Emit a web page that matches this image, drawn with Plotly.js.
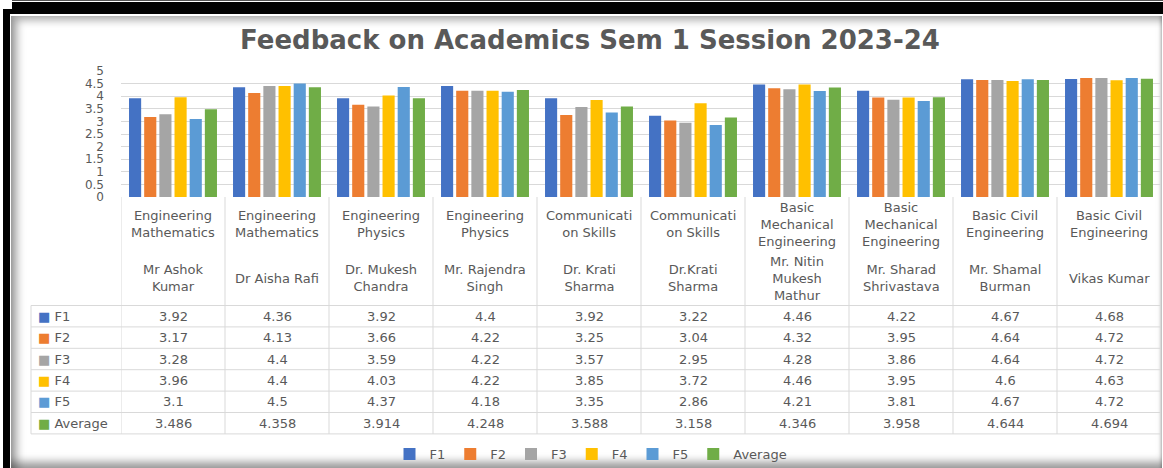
<!DOCTYPE html>
<html><head><meta charset="utf-8">
<script src="https://cdn.plot.ly/plotly-3.0.1.min.js"></script>
<style>
html,body{margin:0;padding:0;width:1163px;height:468px;overflow:hidden;background:#fff;}
.f{position:absolute;}
#f1{left:12px;top:0;right:0;height:9px;background:linear-gradient(#555 0 1px,#fff 1px 2px,#000 2px);}
#f2{left:3px;top:9px;right:0;bottom:0;background:#000;}
#f3{left:10px;top:14px;right:0;bottom:0;background:#fff;}
#f4{left:11px;top:16px;right:1px;bottom:0;background:#fff;
 box-shadow: inset 9px 7px 9px -3px rgba(0,0,0,0.35), inset 0 -9px 8px -3px rgba(0,0,0,0.4), inset -3px 0 3px -2px rgba(0,0,0,0.25);}
#chart{position:absolute;left:0;top:0;width:1163px;height:468px;}
</style></head><body>
<div class="f" id="f1"></div><div class="f" id="f2"></div><div class="f" id="f3"></div><div class="f" id="f4"></div>
<div id="chart"></div>
<script>
// ---- data ----
const subjects = ["Engineering<br>Mathematics","Engineering<br>Mathematics","Engineering<br>Physics","Engineering<br>Physics","Communicati<br>on Skills","Communicati<br>on Skills","Basic<br>Mechanical<br>Engineering","Basic<br>Mechanical<br>Engineering","Basic Civil<br>Engineering","Basic Civil<br>Engineering"];
const teachers = ["Mr Ashok<br>Kumar","Dr Aisha Rafi","Dr. Mukesh<br>Chandra","Mr. Rajendra<br>Singh","Dr. Krati<br>Sharma","Dr.Krati<br>Sharma","Mr. Nitin<br>Mukesh<br>Mathur","Mr. Sharad<br>Shrivastava","Mr. Shamal<br>Burman","Vikas Kumar"];
const seriesNames = ["F1","F2","F3","F4","F5","Average"];
const F1 = [3.92,4.36,3.92,4.4,3.92,3.22,4.46,4.22,4.67,4.68];
const F2 = [3.17,4.13,3.66,4.22,3.25,3.04,4.32,3.95,4.64,4.72];
const F3 = [3.28,4.4,3.59,4.22,3.57,2.95,4.28,3.86,4.64,4.72];
const F4 = [3.96,4.4,4.03,4.22,3.85,3.72,4.46,3.95,4.6,4.63];
const F5 = [3.1,4.5,4.37,4.18,3.35,2.86,4.21,3.81,4.67,4.72];
const Average = [3.486,4.358,3.914,4.248,3.588,3.158,4.346,3.958,4.644,4.694];
const yTicks = [0,0.5,1,1.5,2,2.5,3,3.5,4,4.5,5];
const titleText = "Feedback on Academics Sem 1 Session 2023-24";

// ---- styles ----
const colors = ["#4472C4","#ED7D31","#A5A5A5","#FFC000","#5B9BD5","#70AD47"];
const seriesValues = [F1,F2,F3,F4,F5,Average];
const FONT = "DejaVu Sans";
const GRAY = "#595959";
const LINE = "#D9D9D9";
const W = 1163, H = 468, ML = 121, MR = 2, MT = 71, MB = 271;
const PW = W - ML - MR, PH = H - MT - MB;
const px = p => (p - ML) / PW;
const py = p => (H - MB - p) / PH;

const traces = seriesNames.map((n, k) => ({
  type: 'bar', name: n, x: teachers, y: seriesValues[k],
  marker: {color: colors[k]}, hoverinfo: 'skip'
}));

const annotations = [];
const shapes = [];
// header labels
teachers.forEach((t, i) => {
  annotations.push({xref:'x', yref:'paper', x:t, y:py(224), text:subjects[i], showarrow:false,
    xanchor:'center', yanchor:'middle', align:'center', font:{family:FONT,size:13,color:GRAY}});
  annotations.push({xref:'x', yref:'paper', x:t, y:py(278), text:t, showarrow:false,
    xanchor:'center', yanchor:'middle', align:'center', font:{family:FONT,size:13,color:GRAY}});
});
// rows
const rowTop = 305.5, rowH = 21.4;
seriesNames.forEach((n, k) => {
  const yc = py(rowTop + rowH * (k + 0.5));
  annotations.push({xref:'paper', yref:'paper', x:px(36), y:yc, xanchor:'left', yanchor:'middle', showarrow:false,
    text:'<span style="color:' + colors[k] + '">■</span> ' + n, font:{family:FONT,size:13,color:GRAY}});
  teachers.forEach((t, i) => {
    annotations.push({xref:'x', yref:'paper', x:t, y:yc, xanchor:'center', yanchor:'middle', showarrow:false,
      text:String(seriesValues[k][i]), font:{family:FONT,size:13,color:GRAY}});
  });
});
// table lines
for (let k = 0; k <= seriesNames.length; k++) {
  const y = py(rowTop + rowH * k);
  shapes.push({type:'line', xref:'paper', yref:'paper', x0:px(31), x1:1, y0:y, y1:y, line:{color:LINE,width:1}});
}
for (let i = 0; i <= teachers.length; i++) {
  shapes.push({type:'line', xref:'x', yref:'paper', x0:i-0.5, x1:i-0.5, y0:0, y1:py(rowTop + rowH*seriesNames.length), line:{color:LINE,width:1}});
}
shapes.push({type:'line', xref:'paper', yref:'paper', x0:px(31), x1:px(31), y0:py(rowTop), y1:py(rowTop + rowH*seriesNames.length), line:{color:LINE,width:1}});

const layout = {
  width: W, height: H,
  margin: {l:ML, r:MR, t:MT, b:MB, pad:0, autoexpand:false},
  paper_bgcolor: 'rgba(0,0,0,0)', plot_bgcolor: 'rgba(0,0,0,0)',
  title: {text:'<b>' + titleText + '</b>', font:{family:FONT,size:26,color:GRAY},
    x: 590/W, xref:'container', xanchor:'center', y: 1 - 40/H, yref:'container', yanchor:'middle'},
  barmode: 'group', bargap: 0.125, bargroupgap: 0.2,
  xaxis: {type:'category', showticklabels:false, showgrid:false, zeroline:false, showline:false, ticks:'', range:[-0.5, 9.5], fixedrange:true},
  yaxis: {range:[0,5], tickvals:yTicks, ticktext:yTicks.map(String), showgrid:true, gridcolor:LINE, gridwidth:1,
    zeroline:false, showline:false, ticks:'', ticklabelstandoff:16,
    tickfont:{family:FONT,size:12,color:GRAY}, fixedrange:true},
  showlegend: true,
  legend: {orientation:'h', x:px(591), xanchor:'center', y:py(439), yanchor:'top',
    font:{family:FONT,size:13,color:GRAY}, itemwidth:30,
    traceorder:'normal', bgcolor:'rgba(0,0,0,0)'},
  annotations, shapes
};
Plotly.newPlot('chart', traces, layout, {displayModeBar:false, staticPlot:true});
</script>
</body></html>
